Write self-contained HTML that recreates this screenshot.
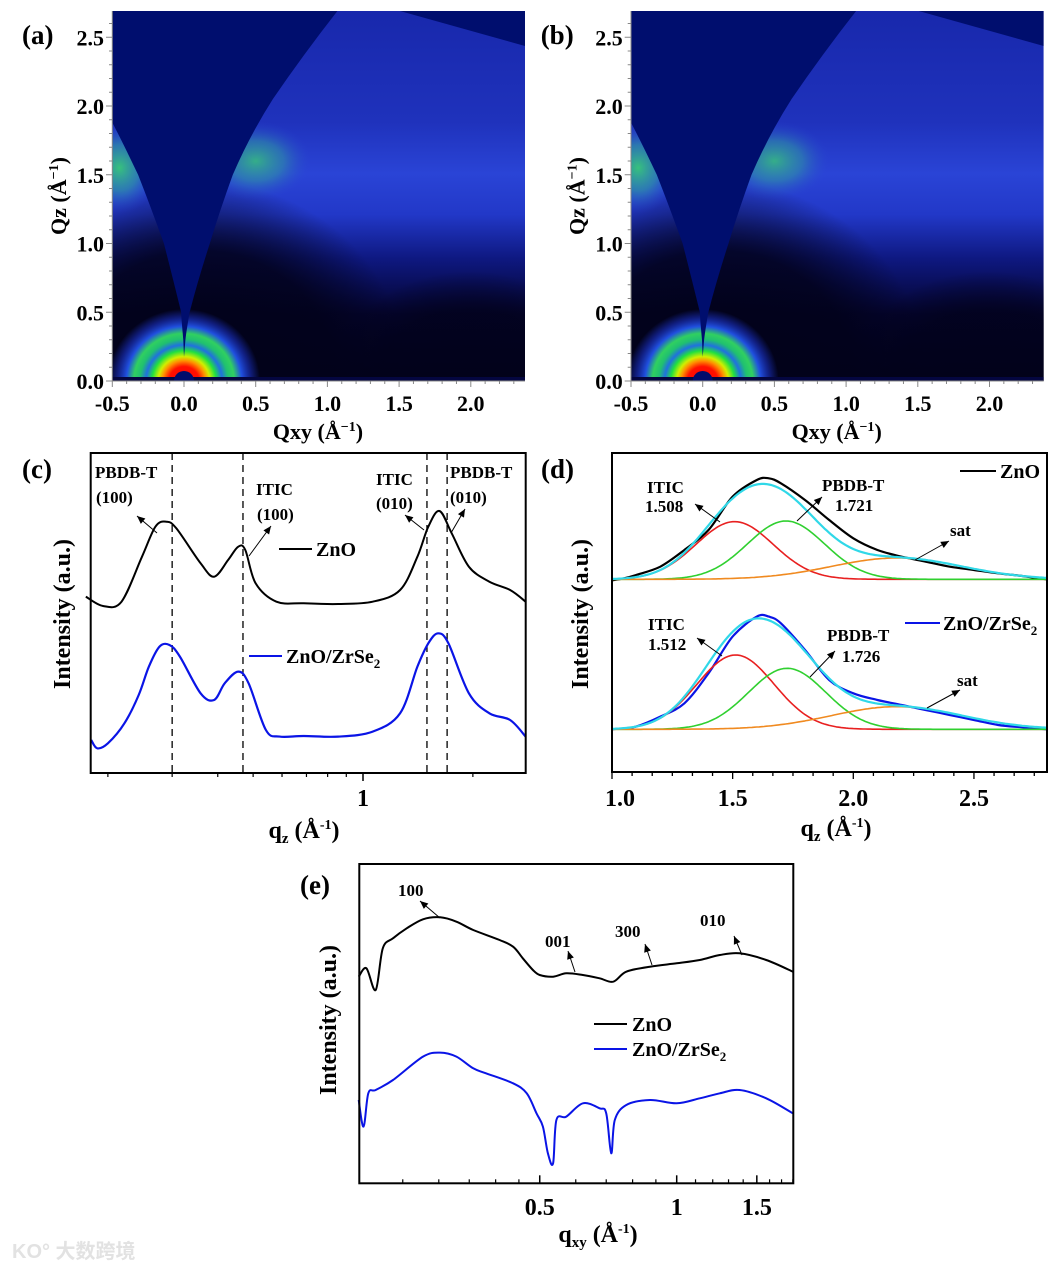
<!DOCTYPE html>
<html><head><meta charset="utf-8">
<style>
html,body{margin:0;padding:0;background:#fff;}
svg{display:block;font-family:"Liberation Serif","Noto Serif CJK SC",serif;font-weight:bold;}
</style></head>
<body>
<svg id="fig" width="1054" height="1270" viewBox="0 0 1054 1270" xmlns="http://www.w3.org/2000/svg">
<defs id="defs">
  <radialGradient id="greenpatch">
    <stop offset="0" stop-color="#38c878" stop-opacity="0.95"/>
    <stop offset="0.5" stop-color="#30a0a0" stop-opacity="0.6"/>
    <stop offset="1" stop-color="#2a44d6" stop-opacity="0"/>
  </radialGradient>
  <radialGradient id="rings" cx="0.5" cy="0.5" r="0.5">
    <stop offset="0" stop-color="#ff0000"/>
    <stop offset="0.2" stop-color="#ff1000"/>
    <stop offset="0.28" stop-color="#ff9000"/>
    <stop offset="0.34" stop-color="#d0f000"/>
    <stop offset="0.42" stop-color="#20e040"/>
    <stop offset="0.5" stop-color="#2070e0"/>
    <stop offset="0.58" stop-color="#20c070"/>
    <stop offset="0.66" stop-color="#30d060"/>
    <stop offset="0.76" stop-color="#2050e0"/>
    <stop offset="0.88" stop-color="#1a30c0" stop-opacity="0.6"/>
    <stop offset="1" stop-color="#1a30c0" stop-opacity="0"/>
  </radialGradient>
  <linearGradient id="vgrad" x1="0" y1="1" x2="0" y2="0">
    <stop offset="0" stop-color="#02021a"/>
    <stop offset="0.18" stop-color="#04042e"/>
    <stop offset="0.33" stop-color="#0e1880"/>
    <stop offset="0.45" stop-color="#2238c8"/>
    <stop offset="0.56" stop-color="#2a44d6"/>
    <stop offset="0.7" stop-color="#1f32bc"/>
    <stop offset="1" stop-color="#1828ac"/>
  </linearGradient>
  <radialGradient id="darkcore" cx="0.5" cy="0.5" r="0.5">
    <stop offset="0" stop-color="#02021a" stop-opacity="1"/>
    <stop offset="0.65" stop-color="#02021a" stop-opacity="0.85"/>
    <stop offset="1" stop-color="#02021a" stop-opacity="0"/>
  </radialGradient>
  <clipPath id="clipA"><rect x="112.3" y="11" width="412.7" height="370"/></clipPath>
  <clipPath id="clipB"><rect x="631" y="11" width="412.7" height="370"/></clipPath>
</defs>
</svg>
<script>
const NS='http://www.w3.org/2000/svg';
const svg=document.getElementById('fig');
function mk(tag,attrs,parent){const e=document.createElementNS(NS,tag);for(const k in attrs)e.setAttribute(k,attrs[k]);(parent||svg).appendChild(e);return e;}
function txt(s,x,y,size,anchor,parent){const t=mk('text',{x:x,y:y,'font-size':size,'text-anchor':anchor||'middle'},parent);t.textContent=s;return t;}

/* ---------------- DATA ---------------- */
const mapTicksX=[-0.5,0.0,0.5,1.0,1.5,2.0];
const mapTicksY=[0.0,0.5,1.0,1.5,2.0,2.5];
const mapTickLabelsX=['-0.5','0.0','0.5','1.0','1.5','2.0'];
const mapTickLabelsY=['0.0','0.5','1.0','1.5','2.0','2.5'];
// panel (c)
const cQ=[0.174,0.194,0.218,0.248,0.270,0.289,0.308,0.359,0.391,0.427,0.455,0.476,0.508,0.579,0.688,0.855,1.063,1.264,1.409,1.51,1.62,1.75,1.95,2.22,2.53,2.79];
const cZnO=[53,50.2,51.5,65,74,75.5,73.5,63,59,64,68,67,57,51.5,51,50.8,51.5,55,65,74,78.7,72,62,57.5,55,51.5];
const cQBlue=[0.18,0.187,0.2,0.222,0.243,0.259,0.277,0.295,0.315,0.359,0.391,0.418,0.455,0.486,0.542,0.591,0.688,0.855,1.063,1.264,1.409,1.51,1.606,1.714,1.95,2.22,2.53,2.79];
const cZr=[10,7.5,9,15,23.5,32,38,38.5,35,24,22,27,30.5,27,13,11,11.2,11,12.5,18,32,39,42,39,24,18,16,11];
const cDashed=[0.30,0.469,1.497,1.70];
const cMinorTicks=[0.2,0.3,0.4,0.5,0.6,0.7,0.8,0.9,2];
const cMajorTicks=[1];
const cMajorLabels=['1'];
// panel (d)
const dQ=[1.0,1.05,1.1,1.2,1.3,1.4,1.5,1.6,1.65,1.7,1.8,1.9,2.0,2.1,2.2,2.3,2.4,2.5,2.6,2.7,2.8];
const dZnO=[-0.3,0.3,1.3,3.8,8.8,14.8,24.8,29.8,30.3,28.8,23.8,17.8,12.3,8.8,6.8,5.3,3.8,2.8,1.8,1.0,0];
const dZr=[0,0.3,0.8,3.8,7.8,16.8,27.8,33.8,33.8,31.8,23.8,14.8,10.8,8.8,7.3,5.8,4.3,2.8,1.3,0.6,0];
const dBaseZnO=58.2, dBaseZr=13.2;
const fitCentersZnO=[1.508,1.721,2.18];
const fitHeightsZnO=[17.3,17.5,6.4];
const fitWidthsZnO=[0.16,0.16,0.27];
const fitCentersZr=[1.512,1.726,2.18];
const fitHeightsZr=[22.3,18.3,6.8];
const fitWidthsZr=[0.16,0.16,0.27];
const dTicks=[1.0,1.5,2.0,2.5];
const dTickLabels=['1.0','1.5','2.0','2.5'];
// panel (e)
const eQ=[0.2,0.208,0.218,0.226,0.238,0.255,0.277,0.302,0.328,0.357,0.408,0.437,0.459,0.483,0.5,0.535,0.572,0.622,0.677,0.725,0.775,0.873,1.0,1.124,1.244,1.375,1.573,1.8];
const eZnO=[62,64.5,58,70.5,73.5,76.5,79.2,79.8,78.5,76,73,71,67.5,64,62.5,62,63,62.5,61.5,60.5,63.5,65,66,67,68.5,69,67,63.5];
const eQBlue=[0.2,0.205,0.21,0.218,0.238,0.277,0.302,0.328,0.357,0.381,0.437,0.468,0.492,0.508,0.521,0.535,0.544,0.572,0.622,0.677,0.7,0.718,0.731,0.775,0.873,1.0,1.124,1.244,1.375,1.573,1.8];
const eZr=[25,17,27,28,31,38,39.2,38,34.5,33,30,27,21,17,9,6,19,20,24,22.5,21,9,19,23.5,25,24,25.5,27,28,25.5,21];
const eMajorTicks=[0.5,1,1.5];
const eMajorLabels=['0.5','1','1.5'];
const eMinorTicks=[0.25,0.3,0.35,0.4,0.45,0.6,0.7,0.8,0.9,1.1,1.2,1.3,1.4,1.6,1.7,1.8];

/* ---------------- PANELS (a),(b) ---------------- */
function drawMap(ox,clip,label,nameSuffix){
  const X=q=>ox+184+143.4*q, Y=q=>381-137.5*q;
  const g=mk('g',{'clip-path':'url(#'+clip+')'});
  
  
  mk('rect',{x:ox+112.3,y:11,width:412.7,height:370,fill:'url(#vgrad)'},g);
  mk('ellipse',{cx:ox+200,cy:381,rx:210,ry:200,fill:'url(#darkcore)'},g);
  mk('ellipse',{cx:ox+470,cy:381,rx:140,ry:110,fill:'url(#darkcore)',opacity:0.8},g);
  mk('ellipse',{cx:X(-0.45),cy:Y(1.55),rx:40,ry:46,fill:'url(#greenpatch)'},g);
  mk('ellipse',{cx:X(0.5),cy:Y(1.6),rx:56,ry:40,fill:'url(#greenpatch)',opacity:0.85},g);
  const rg=mk('ellipse',{cx:X(0),cy:Y(0),rx:76,ry:72,fill:'url(#rings)'},g);
  
  
  mk('rect',{x:ox+112.3,y:377,width:412.7,height:4,fill:'#040640'},g);
  mk('path',{d:'M'+(ox+174)+',381 A10,10 0 0 1 '+(ox+194)+',381 Z',fill:'#000c6c'},g);
  const w=mk('path',{fill:'#000e6e',d:
   'M'+(ox+184)+',357 L'+(ox+183.3)+',340 Q'+(ox+181.5)+',320 '+(ox+181.1)+',312 Q'+(ox+172)+',275 '+(ox+163.9)+',243.5 Q'+(ox+150)+',205 '+(ox+138.1)+',174.8 Q'+(ox+124)+',145 '+(ox+112.3)+',122.5 L'+(ox+112.3)+',11 L'+(ox+337.4)+',11 Q'+(ox+303)+',55 '+(ox+272.9)+',99 Q'+(ox+250)+',135 '+(ox+232.8)+',174.8 Q'+(ox+220)+',210 '+(ox+209.8)+',243.5 Q'+(ox+198)+',280 '+(ox+189.7)+',312 Q'+(ox+186.5)+',330 '+(ox+185.4)+',340 Z'},g);
  
  
  mk('polygon',{points:(ox+400)+',11 '+(ox+525)+',11 '+(ox+525)+',46',fill:'#000e6e'},g);
  const ax=mk('g',{stroke:'#888',fill:'none','stroke-width':1});
  
  
  mk('line',{x1:ox+112.3,y1:11,x2:ox+112.3,y2:381},ax);
  mk('line',{x1:ox+112.3,y1:381,x2:ox+525,y2:381},ax);
  for(let q=-0.5;q<=2.35;q+=0.1){mk('line',{x1:X(q),y1:381,x2:X(q),y2:Math.abs(q*2-Math.round(q*2))<0.01?387:384},ax);}
  for(let q=0;q<=2.65;q+=0.1){mk('line',{x1:ox+112.3,y1:Y(q),x2:Math.abs(q*2-Math.round(q*2))<0.01?ox+106:ox+109,y2:Y(q)},ax);}
  mapTicksX.forEach((v,i)=>{const t=txt(mapTickLabelsX[i],X(v),411,22,'middle');
    
    });
  mapTicksY.forEach((v,i)=>{const t=txt(mapTickLabelsY[i],ox+104,Y(v)+8,22,'end');
    
    });
  const xt=mk('text',{x:ox+318,y:439,'font-size':22,'text-anchor':'middle'});
  xt.innerHTML='Qxy (Å<tspan font-size="14" dy="-8">−1</tspan><tspan dy="8">)</tspan>';
  
  
  const yt=mk('text',{x:0,y:0,'font-size':22,'text-anchor':'middle',transform:'translate('+(ox+66)+',196) rotate(-90)'});
  yt.innerHTML='Qz (Å<tspan font-size="14" dy="-8">−1</tspan><tspan dy="8">)</tspan>';
  
  
  const pl=txt(label,ox+22,44,27,'start');
  
  
}
drawMap(0,'clipA','(a)','a');
drawMap(518.7,'clipB','(b)','b');

/* ---------------- helpers ---------------- */
function poly(xs,ys,fx,fy,color,w,parent,smooth){
  const P=xs.map((x,i)=>[fx(x),fy(ys[i])]);
  let d='M'+P[0][0].toFixed(1)+','+P[0][1].toFixed(1);
  for(let i=0;i<P.length-1;i++){
    if(!smooth){d+='L'+P[i+1][0].toFixed(1)+','+P[i+1][1].toFixed(1);continue;}
    const p0=P[Math.max(0,i-1)],p1=P[i],p2=P[i+1],p3=P[Math.min(P.length-1,i+2)];
    const c1=[p1[0]+(p2[0]-p0[0])/6,p1[1]+(p2[1]-p0[1])/6];
    const c2=[p2[0]-(p3[0]-p1[0])/6,p2[1]-(p3[1]-p1[1])/6];
    d+='C'+c1[0].toFixed(1)+','+c1[1].toFixed(1)+' '+c2[0].toFixed(1)+','+c2[1].toFixed(1)+' '+p2[0].toFixed(1)+','+p2[1].toFixed(1);
  }
  return mk('path',{d:d,fill:'none',stroke:color,'stroke-width':w,'stroke-linejoin':'round'},parent);
}
function arrow(x1,y1,x2,y2,parent){
  const g=mk('g',{},parent);
  
  
  mk('line',{x1:x1,y1:y1,x2:x2,y2:y2,stroke:'#000','stroke-width':1},g);
  const a=Math.atan2(y2-y1,x2-x1),L=8,W=3.5;
  const bx=x2-L*Math.cos(a),by=y2-L*Math.sin(a);
  mk('polygon',{points:x2+','+y2+' '+(bx-W*Math.sin(a))+','+(by+W*Math.cos(a))+' '+(bx+W*Math.sin(a))+','+(by-W*Math.cos(a)),fill:'#000'},g);
}
function label(s,x,y,size,anchor,name,parent){const t=txt(s,x,y,size,anchor,parent);return t;}
function subTitle(html,x,y,rot,name){
  const t=mk('text',{x:0,y:0,'font-size':24,'text-anchor':'middle',transform:'translate('+x+','+y+')'+(rot?' rotate(-90)':'')});
  t.innerHTML=html;
  
  
}

/* ---------------- PANEL (c) ---------------- */
(function(){
  const L=90.7,R=525.7,T=453,B=773;
  const X=q=>363+365*Math.log10(q), Y=v=>773.3-3.333*v;
  const g=mk('g',{});
  
  
  cDashed.forEach(q=>{const l=mk('line',{x1:X(q),y1:T,x2:X(q),y2:B,stroke:'#000','stroke-width':1.3,'stroke-dasharray':'7,5'},g);
    
    });
  const s1=poly(cQ,cZnO,X,Y,'#000',2,g,true);
  
  
  const s2=poly(cQBlue,cZr,X,Y,'#0a14e6',2.2,g,true);
  
  
  const box=mk('rect',{x:L,y:T,width:R-L,height:B-T,fill:'none',stroke:'#000','stroke-width':2},g);
  
  
  cMinorTicks.forEach(q=>mk('line',{x1:X(q),y1:B,x2:X(q),y2:B+4,stroke:'#000','stroke-width':1.2},g));
  cMajorTicks.forEach((q,i)=>{mk('line',{x1:X(q),y1:B,x2:X(q),y2:B+8,stroke:'#000','stroke-width':1.5},g);
    label(cMajorLabels[i],X(q),806,24,'middle','x-tick-label',g);});
  label('PBDB-T',95,478,17,'start','label-pbdbt-100',g);
  label('(100)',96,503,17,'start','label-pbdbt-100-index',g);
  label('ITIC',256,495,17,'start','label-itic-100',g);
  label('(100)',257,520,17,'start','label-itic-100-index',g);
  label('ITIC',376,485,17,'start','label-itic-010',g);
  label('(010)',376,509,17,'start','label-itic-010-index',g);
  label('PBDB-T',450,478,17,'start','label-pbdbt-010',g);
  label('(010)',450,503,17,'start','label-pbdbt-010-index',g);
  arrow(157,533,137,516,g); arrow(249,556,271,526,g); arrow(424,530,405,515,g); arrow(451,533,465,509,g);
  const lg1=mk('line',{x1:279,y1:549,x2:312,y2:549,stroke:'#000','stroke-width':2},g);
  
  
  label('ZnO',316,556,20,'start','legend-label-zno',g);
  const lg2=mk('line',{x1:249,y1:656,x2:282,y2:656,stroke:'#0a14e6','stroke-width':2},g);
  
  
  const lt=mk('text',{x:286,y:663,'font-size':20,'text-anchor':'start'},g);
  lt.innerHTML='ZnO/ZrSe<tspan font-size="13" dy="5">2</tspan>';
  
  
  subTitle('Intensity (a.u.)',70,614,true,'y-axis-title');
  subTitle('q<tspan font-size="15" dy="5">z</tspan><tspan dy="-5"> (Å</tspan><tspan font-size="14" dy="-9">-1</tspan><tspan dy="9">)</tspan>',304,838,false,'x-axis-title');
  label('(c)',22,478,27,'start','panel-label',g);
})();

/* ---------------- PANEL (d) ---------------- */
(function(){
  const L=612,R=1047,T=453,B=772;
  const X=q=>612+241.3*(q-1), Y=v=>773.3-3.333*v;
  const g=mk('g',{});
  
  
  const gauss=(q,c,h,w)=>h*Math.exp(-0.5*Math.pow((q-c)/w,2));
  const grid=[];for(let q=1.0;q<=2.801;q+=0.01)grid.push(q);
  function fits(base,C,H,W,nm){
    const cols=['#e82020','#30d030','#f08a20'];
    for(let k=0;k<3;k++){
      const p=poly(grid,grid.map(q=>base+gauss(q,C[k],H[k],W[k])),X,Y,cols[k],1.6,g,false);
      
      
    }
  }
  const m1=poly(dQ,dZnO.map(v=>dBaseZnO+v),X,Y,'#000',2.2,g,true);
  
  
  const m2=poly(dQ,dZr.map(v=>dBaseZr+v),X,Y,'#0a14e6',2.2,g,true);
  
  
  fits(dBaseZnO,fitCentersZnO,fitHeightsZnO,fitWidthsZnO,'zno');
  fits(dBaseZr,fitCentersZr,fitHeightsZr,fitWidthsZr,'zno-zrse2');
  const sum=(base,C,H,W)=>grid.map(q=>base+gauss(q,C[0],H[0],W[0])+gauss(q,C[1],H[1],W[1])+gauss(q,C[2],H[2],W[2]));
  const f1=poly(grid,sum(dBaseZnO,fitCentersZnO,fitHeightsZnO,fitWidthsZnO),X,Y,'#30d8e8',2.2,g,false);
  
  
  const f2=poly(grid,sum(dBaseZr,fitCentersZr,fitHeightsZr,fitWidthsZr),X,Y,'#30d8e8',2.2,g,false);
  
  
  const box=mk('rect',{x:L,y:T,width:R-L,height:B-T,fill:'none',stroke:'#000','stroke-width':2},g);
  
  
  for(let i=0;i<=21;i++){const q=1+i/12;if(q>2.8)break;mk('line',{x1:X(q),y1:B,x2:X(q),y2:B+(i%6==0?7:4),stroke:'#000','stroke-width':1.3},g);}
  dTicks.forEach((q,i)=>label(dTickLabels[i],X(q)+(i==0?8:0),806,24,'middle','x-tick-label',g));
  label('ITIC',647,493,17,'start','label-itic-zno',g);
  label('1.508',645,512,17,'start','value-itic-zno',g);
  label('PBDB-T',822,491,17,'start','label-pbdbt-zno',g);
  label('1.721',835,511,17,'start','value-pbdbt-zno',g);
  label('sat',950,536,17,'start','label-sat-zno',g);
  label('ITIC',648,630,17,'start','label-itic-zno-zrse2',g);
  label('1.512',648,650,17,'start','value-itic-zno-zrse2',g);
  label('PBDB-T',827,641,17,'start','label-pbdbt-zno-zrse2',g);
  label('1.726',842,662,17,'start','value-pbdbt-zno-zrse2',g);
  label('sat',957,686,17,'start','label-sat-zno-zrse2',g);
  arrow(720,522,695,504,g); arrow(797,521,822,497,g); arrow(915,560,949,541,g);
  arrow(722,656,697,638,g); arrow(810,677,835,651,g); arrow(927,708,960,690,g);
  const lg1=mk('line',{x1:960,y1:471,x2:996,y2:471,stroke:'#000','stroke-width':2},g);
  
  
  label('ZnO',1000,478,20,'start','legend-label-zno',g);
  const lg2=mk('line',{x1:905,y1:623,x2:940,y2:623,stroke:'#0a14e6','stroke-width':2},g);
  
  
  const lt=mk('text',{x:943,y:630,'font-size':20,'text-anchor':'start'},g);
  lt.innerHTML='ZnO/ZrSe<tspan font-size="13" dy="5">2</tspan>';
  
  
  subTitle('Intensity (a.u.)',588,614,true,'y-axis-title');
  subTitle('q<tspan font-size="15" dy="5">z</tspan><tspan dy="-5"> (Å</tspan><tspan font-size="14" dy="-9">-1</tspan><tspan dy="9">)</tspan>',836,836,false,'x-axis-title');
  label('(d)',541,478,27,'start','panel-label',g);
})();

/* ---------------- PANEL (e) ---------------- */
(function(){
  const L=359.3,R=793.3,T=864,B=1183.3;
  const X=q=>676.7+455*Math.log10(q), Y=v=>1183.3-3.333*v;
  const g=mk('g',{});
  
  
  const s1=poly(eQ,eZnO,X,Y,'#000',2,g,true);
  
  
  const s2=poly(eQBlue,eZr,X,Y,'#0a14e6',2,g,true);
  
  
  const box=mk('rect',{x:L,y:T,width:R-L,height:B-T,fill:'none',stroke:'#000','stroke-width':2},g);
  
  
  eMinorTicks.forEach(q=>mk('line',{x1:X(q),y1:B,x2:X(q),y2:B-4,stroke:'#000','stroke-width':1.2},g));
  eMajorTicks.forEach((q,i)=>{mk('line',{x1:X(q),y1:B,x2:X(q),y2:B-8,stroke:'#000','stroke-width':1.5},g);
    label(eMajorLabels[i],X(q),1215,24,'middle','x-tick-label',g);});
  label('100',398,896,17,'start','label-100',g);
  label('001',545,947,17,'start','label-001',g);
  label('300',615,937,17,'start','label-300',g);
  label('010',700,926,17,'start','label-010',g);
  arrow(440,918,420,901,g); arrow(575,972,568,951,g); arrow(652,965,645,944,g); arrow(742,955,734,936,g);
  const lg1=mk('line',{x1:594,y1:1024,x2:627,y2:1024,stroke:'#000','stroke-width':2},g);
  
  
  label('ZnO',632,1031,20,'start','legend-label-zno',g);
  const lg2=mk('line',{x1:594,y1:1049,x2:627,y2:1049,stroke:'#0a14e6','stroke-width':2},g);
  
  
  const lt=mk('text',{x:632,y:1056,'font-size':20,'text-anchor':'start'},g);
  lt.innerHTML='ZnO/ZrSe<tspan font-size="13" dy="5">2</tspan>';
  
  
  subTitle('Intensity (a.u.)',336,1020,true,'y-axis-title');
  subTitle('q<tspan font-size="15" dy="5">xy</tspan><tspan dy="-5"> (Å</tspan><tspan font-size="14" dy="-9">-1</tspan><tspan dy="9">)</tspan>',598,1242,false,'x-axis-title');
  label('(e)',300,894,27,'start','panel-label',g);
})();

const wm=mk('text',{x:12,y:1258,'font-size':20,fill:'#e2e2e2','text-anchor':'start'});
wm.setAttribute('font-family','"Liberation Sans","Noto Sans CJK SC",sans-serif');
wm.textContent='KO° 大数跨境';


</script>
</body></html>
